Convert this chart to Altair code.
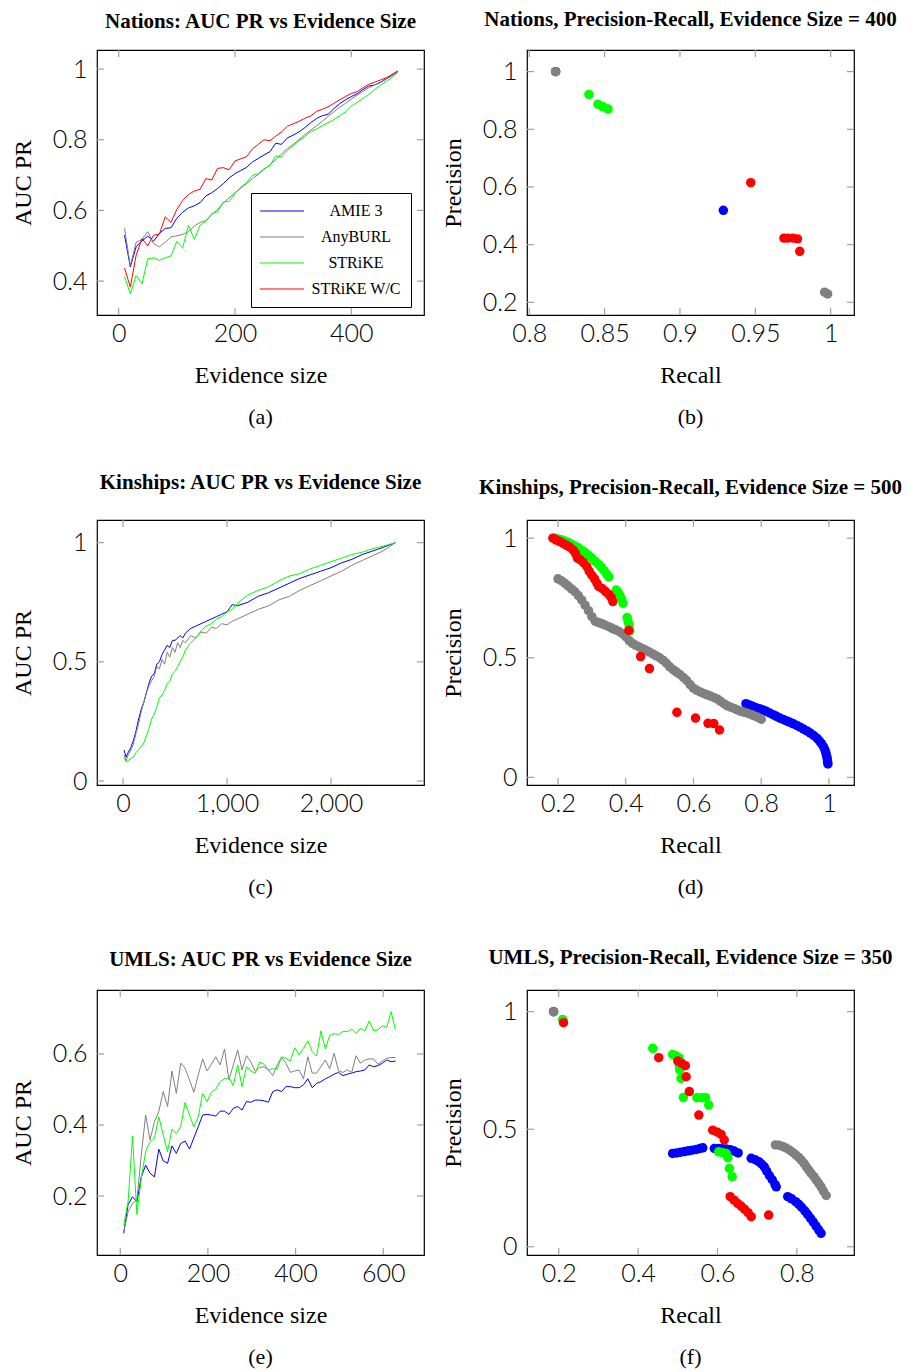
import altair as alt
import pandas as pd

SERIES = ["AMIE 3", "AnyBURL", "STRiKE", "STRiKE W/C"]
COLORS = ["#0000ff", "#808080", "#00ff00", "#ff0000"]
SERIF = "Liberation Serif"
SANS = "Lato"

# ---------------- Nations: AUC PR vs evidence size ----------------
NAT_X = [10, 20, 30, 40, 50, 60, 70, 80, 90, 100, 110, 120, 130, 140, 150, 160,
         170, 180, 190, 200, 210, 220, 230, 240, 250, 260, 270, 280, 290, 300,
         310, 320, 330, 340, 350, 360, 370, 380, 390, 400, 410, 420, 430, 440,
         450, 460, 470, 480]
NAT_AMIE = [0.53, 0.44, 0.497, 0.514, 0.527, 0.513, 0.535, 0.549, 0.551, 0.578,
            0.595, 0.607, 0.613, 0.622, 0.641, 0.65, 0.662, 0.676, 0.692, 0.704,
            0.713, 0.722, 0.737, 0.747, 0.757, 0.766, 0.79, 0.787, 0.805, 0.813,
            0.822, 0.834, 0.848, 0.86, 0.868, 0.872, 0.888, 0.902, 0.913, 0.922,
            0.93, 0.942, 0.952, 0.955, 0.962, 0.972, 0.982, 0.993]
NAT_ANY = [0.55, 0.444, 0.51, 0.517, 0.54, 0.506, 0.497, 0.51, 0.525, 0.528,
           0.532, 0.54, 0.556, 0.566, 0.571, 0.588, 0.603, 0.621, 0.636, 0.65,
           0.663, 0.676, 0.69, 0.702, 0.716, 0.729, 0.744, 0.76, 0.775, 0.787,
           0.8, 0.814, 0.827, 0.839, 0.852, 0.866, 0.879, 0.892, 0.903, 0.915,
           0.926, 0.937, 0.947, 0.955, 0.963, 0.973, 0.983, 0.993]
NAT_STR = [0.413, 0.364, 0.416, 0.392, 0.463, 0.466, 0.459, 0.466, 0.471, 0.513,
           0.494, 0.558, 0.518, 0.558, 0.569, 0.591, 0.596, 0.624, 0.626, 0.648,
           0.666, 0.679, 0.699, 0.704, 0.718, 0.727, 0.754, 0.752, 0.77, 0.783,
           0.797, 0.809, 0.823, 0.83, 0.84, 0.848, 0.857, 0.868, 0.879, 0.895,
           0.906, 0.917, 0.928, 0.942, 0.954, 0.965, 0.977, 0.99]
NAT_WC = [0.437, 0.383, 0.473, 0.52, 0.50, 0.53, 0.533, 0.582, 0.566, 0.603,
          0.628, 0.645, 0.655, 0.66, 0.69, 0.686, 0.719, 0.721, 0.715, 0.74,
          0.746, 0.752, 0.774, 0.787, 0.8, 0.797, 0.81, 0.822, 0.838, 0.845,
          0.852, 0.861, 0.867, 0.88, 0.886, 0.893, 0.903, 0.913, 0.922, 0.931,
          0.936, 0.947, 0.957, 0.963, 0.969, 0.975, 0.985, 0.995]

# ---------------- Nations: precision-recall, evidence 400 ----------------
NPR_AMIE_R = [0.8175, 0.9288]
NPR_AMIE_P = [1.0, 0.519]
NPR_ANY_R = [0.8175, 0.996, 0.998]
NPR_ANY_P = [1.0, 0.235, 0.229]
NPR_STR_R = [0.8396, 0.8456, 0.849, 0.8523]
NPR_STR_P = [0.921, 0.887, 0.878, 0.870]
NPR_WC_R = [0.947, 0.969, 0.9715, 0.975, 0.978, 0.9795]
NPR_WC_P = [0.615, 0.4226, 0.4226, 0.4226, 0.42, 0.377]

# ---------------- Kinships: AUC PR vs evidence size ----------------
KIN_X = [10, 30, 50, 75, 100, 125, 150, 175, 200, 225, 250, 275, 300, 325, 350,
         375, 400, 425, 450, 475, 500, 525, 550, 575, 600, 650, 700, 750, 800,
         850, 900, 950, 1000, 1050, 1100, 1200, 1300, 1400, 1500, 1600, 1700,
         1800, 1900, 2000, 2100, 2200, 2300, 2400, 2500, 2620]
KIN_AMIE = [0.13, 0.10, 0.12, 0.14, 0.17, 0.21, 0.26, 0.30, 0.33, 0.37,
            0.41, 0.44, 0.45, 0.49, 0.50, 0.53, 0.55, 0.57, 0.56, 0.59,
            0.59, 0.60, 0.61, 0.60, 0.62, 0.64, 0.65, 0.66, 0.67, 0.68,
            0.69, 0.70, 0.71, 0.74, 0.735, 0.75, 0.775, 0.79, 0.81, 0.83,
            0.85, 0.865, 0.88, 0.895, 0.915, 0.93, 0.95, 0.965, 0.98, 1.0]
KIN_ANY = [0.11, 0.085, 0.11, 0.13, 0.155, 0.20, 0.24, 0.29, 0.33, 0.37,
           0.40, 0.42, 0.44, 0.48, 0.47, 0.51, 0.49, 0.54, 0.52, 0.56,
           0.54, 0.58, 0.56, 0.59, 0.58, 0.61, 0.60, 0.625, 0.62, 0.645,
           0.64, 0.66, 0.655, 0.67, 0.68, 0.70, 0.72, 0.735, 0.76, 0.775,
           0.80, 0.82, 0.84, 0.86, 0.88, 0.905, 0.925, 0.945, 0.965, 1.0]
KIN_STR = [0.10, 0.08, 0.085, 0.095, 0.10, 0.12, 0.13, 0.145, 0.16, 0.19,
           0.22, 0.26, 0.28, 0.31, 0.35, 0.36, 0.38, 0.41, 0.42, 0.45,
           0.46, 0.48, 0.50, 0.52, 0.55, 0.58, 0.60, 0.63, 0.65, 0.66,
           0.68, 0.69, 0.71, 0.72, 0.745, 0.78, 0.80, 0.815, 0.84, 0.86,
           0.87, 0.89, 0.905, 0.92, 0.935, 0.95, 0.96, 0.975, 0.985, 1.0]

# ---------------- Kinships: precision-recall, evidence 500 ----------------
KPR_AMIE_R = [0.755, 0.765, 0.775, 0.785, 0.795, 0.805, 0.815, 0.825, 0.835, 0.845,
              0.855, 0.865, 0.875, 0.885, 0.895, 0.905, 0.915, 0.925, 0.935, 0.945,
              0.955, 0.965, 0.972, 0.978, 0.984, 0.988, 0.991, 0.993, 0.995, 0.996,
              0.997]
KPR_AMIE_P = [0.308, 0.302, 0.297, 0.291, 0.287, 0.282, 0.276, 0.269, 0.262, 0.255,
              0.248, 0.242, 0.236, 0.230, 0.224, 0.217, 0.210, 0.202, 0.194, 0.185,
              0.175, 0.163, 0.152, 0.141, 0.128, 0.115, 0.102, 0.090, 0.078, 0.066,
              0.056]
KPR_ANY_R = [0.20, 0.21, 0.22, 0.23, 0.24, 0.25, 0.26, 0.27, 0.28, 0.29,
             0.30, 0.31, 0.32, 0.33, 0.34, 0.35, 0.36, 0.37, 0.38, 0.39,
             0.40, 0.41, 0.42, 0.43, 0.44, 0.45, 0.46, 0.47, 0.48, 0.49,
             0.50, 0.51, 0.52, 0.53, 0.54, 0.55, 0.56, 0.57, 0.58, 0.59,
             0.60, 0.61, 0.62, 0.63, 0.64, 0.65, 0.66, 0.67, 0.68, 0.69,
             0.70, 0.71, 0.72, 0.73, 0.74, 0.75, 0.76, 0.77, 0.78, 0.79, 0.80]
KPR_ANY_P = [0.830, 0.822, 0.812, 0.800, 0.788, 0.776, 0.760, 0.742, 0.720, 0.697,
             0.672, 0.652, 0.647, 0.642, 0.636, 0.630, 0.623, 0.617, 0.610, 0.601,
             0.588, 0.572, 0.560, 0.552, 0.545, 0.538, 0.531, 0.524, 0.516, 0.508,
             0.500, 0.490, 0.477, 0.462, 0.450, 0.440, 0.430, 0.418, 0.405, 0.388,
             0.373, 0.364, 0.357, 0.351, 0.345, 0.340, 0.334, 0.328, 0.318, 0.308,
             0.299, 0.293, 0.288, 0.282, 0.276, 0.272, 0.268, 0.263, 0.257, 0.251, 0.243]
KPR_STR_R = [0.190, 0.200, 0.210, 0.220, 0.230, 0.240, 0.250, 0.260, 0.270, 0.280,
             0.290, 0.300, 0.310, 0.320, 0.328, 0.336, 0.343, 0.350,
             0.372, 0.378, 0.383, 0.388, 0.392, 0.404, 0.407, 0.410, 0.412]
KPR_STR_P = [1.000, 0.997, 0.993, 0.988, 0.982, 0.975, 0.967, 0.960, 0.950, 0.940,
             0.929, 0.917, 0.903, 0.890, 0.878, 0.864, 0.851, 0.838,
             0.783, 0.772, 0.760, 0.745, 0.728, 0.668, 0.651, 0.635, 0.612]
KPR_WC_R = [0.185, 0.195, 0.205, 0.215, 0.225, 0.235, 0.245, 0.252, 0.257, 0.265,
            0.275, 0.285, 0.292, 0.300, 0.308, 0.315, 0.320, 0.330, 0.340, 0.350,
            0.357, 0.362, 0.409, 0.444, 0.470, 0.551, 0.606, 0.643, 0.660, 0.677]
KPR_WC_P = [1.000, 0.992, 0.986, 0.978, 0.970, 0.962, 0.950, 0.935, 0.918, 0.910,
            0.898, 0.882, 0.862, 0.845, 0.830, 0.812, 0.798, 0.790, 0.778, 0.765,
            0.752, 0.735, 0.614, 0.505, 0.455, 0.272, 0.248, 0.226, 0.225, 0.198]

# ---------------- UMLS: AUC PR vs evidence size ----------------
UML_X = [8, 18, 28, 38, 48, 58, 68, 78, 88, 98, 108, 118, 128, 138, 148, 158,
         168, 178, 188, 198, 208, 218, 228, 238, 248, 258, 268, 278, 288, 298,
         308, 318, 328, 338, 348, 358, 368, 378, 388, 398, 408, 418, 428, 438,
         448, 458, 468, 478, 488, 498, 508, 518, 528, 538, 548, 558, 568, 578,
         588, 598, 608, 618, 628]
UML_AMIE = [0.095, 0.176, 0.198, 0.184, 0.254, 0.287, 0.264, 0.254, 0.332, 0.299,
            0.292, 0.341, 0.32, 0.348, 0.355, 0.332, 0.364, 0.395, 0.428, 0.43,
            0.428, 0.425, 0.439, 0.439, 0.43, 0.447, 0.452, 0.442, 0.466, 0.464,
            0.47, 0.47, 0.468, 0.464, 0.494, 0.499, 0.494, 0.508, 0.508, 0.505,
            0.505, 0.513, 0.53, 0.505, 0.517, 0.522, 0.53, 0.536, 0.543, 0.548,
            0.539, 0.543, 0.546, 0.55, 0.552, 0.555, 0.569, 0.564, 0.567, 0.574,
            0.583, 0.578, 0.58]
UML_ANY = [0.1, 0.156, 0.179, 0.189, 0.315, 0.428, 0.358, 0.409, 0.438, 0.494,
           0.452, 0.552, 0.489, 0.574, 0.56, 0.527, 0.492, 0.541, 0.586, 0.552,
           0.571, 0.592, 0.569, 0.614, 0.527, 0.569, 0.611, 0.555, 0.595, 0.577,
           0.552, 0.562, 0.564, 0.555, 0.539, 0.569, 0.59, 0.574, 0.548, 0.552,
           0.555, 0.53, 0.592, 0.546, 0.546, 0.564, 0.583, 0.558, 0.602, 0.552,
           0.548, 0.555, 0.548, 0.595, 0.574, 0.583, 0.586, 0.586, 0.571, 0.58,
           0.588, 0.59, 0.59]
UML_STR = [0.118, 0.184, 0.369, 0.148, 0.25, 0.325, 0.353, 0.362, 0.423, 0.372,
           0.325, 0.388, 0.376, 0.395, 0.464, 0.428, 0.395, 0.423, 0.489, 0.466,
           0.492, 0.501, 0.522, 0.53, 0.533, 0.511, 0.569, 0.508, 0.564, 0.552,
           0.546, 0.577, 0.571, 0.555, 0.558, 0.558, 0.592, 0.588, 0.58, 0.618,
           0.597, 0.616, 0.637, 0.607, 0.594, 0.665, 0.614, 0.652, 0.657, 0.655,
           0.663, 0.663, 0.67, 0.658, 0.672, 0.665, 0.693, 0.665, 0.668, 0.679,
           0.675, 0.719, 0.668]

# ---------------- UMLS: precision-recall, evidence 350 ----------------
UPR_AMIE_R = [0.187,
              0.487, 0.497, 0.507, 0.517, 0.527, 0.537, 0.547, 0.556, 0.563,
              0.592, 0.602, 0.612, 0.622, 0.632, 0.642, 0.652,
              0.685, 0.695, 0.704, 0.711, 0.718, 0.724, 0.731, 0.738, 0.745, 0.748,
              0.777, 0.787, 0.797, 0.805, 0.812, 0.820, 0.827, 0.834, 0.841, 0.848,
              0.855, 0.861]
UPR_AMIE_P = [1.0,
              0.397, 0.399, 0.402, 0.405, 0.408, 0.411, 0.414, 0.418, 0.421,
              0.418, 0.418, 0.417, 0.416, 0.413, 0.407, 0.399,
              0.376, 0.370, 0.362, 0.352, 0.340, 0.322, 0.302, 0.285, 0.265, 0.255,
              0.213, 0.204, 0.192, 0.180, 0.168, 0.153, 0.138, 0.122, 0.106, 0.089,
              0.072, 0.057]
UPR_ANY_R = [0.187, 0.746, 0.755, 0.765, 0.773, 0.782, 0.790, 0.798, 0.805, 0.811,
             0.818, 0.824, 0.830, 0.836, 0.843, 0.849, 0.855, 0.861, 0.867, 0.874]
UPR_ANY_P = [1.0, 0.433, 0.432, 0.426, 0.420, 0.411, 0.401, 0.390, 0.380, 0.369,
             0.355, 0.340, 0.326, 0.312, 0.298, 0.284, 0.270, 0.255, 0.237, 0.218]
UPR_STR_R = [0.210, 0.437, 0.487, 0.495, 0.503, 0.504, 0.505, 0.508, 0.514, 0.548,
             0.560, 0.570, 0.578, 0.603, 0.612, 0.622, 0.626, 0.630, 0.637]
UPR_STR_P = [0.967, 0.844, 0.818, 0.812, 0.804, 0.770, 0.752, 0.716, 0.635, 0.634,
             0.634, 0.634, 0.603, 0.404, 0.401, 0.397, 0.379, 0.333, 0.298]
UPR_WC_R = [0.212, 0.452, 0.500, 0.510, 0.519, 0.521, 0.529, 0.553, 0.588, 0.600,
            0.609, 0.617, 0.632, 0.642, 0.651, 0.660, 0.668, 0.677, 0.685, 0.729]
UPR_WC_P = [0.953, 0.804, 0.790, 0.780, 0.770, 0.723, 0.660, 0.560, 0.496, 0.487,
            0.478, 0.454, 0.213, 0.198, 0.184, 0.172, 0.160, 0.145, 0.128, 0.135]


def frame(pairs):
    rows = []
    for name, xs, ys in pairs:
        for a, b in zip(xs, ys):
            rows.append({"x": a, "y": b, "s": name})
    return pd.DataFrame(rows)


def panel(kind, df, title, toff, xdom, ydom, xticks, yticks, xfmt, yfmt,
          xtitle, ytitle, caption, w, h, legend=None, size=90):
    xenc = alt.X("x:Q", scale=alt.Scale(domain=xdom, nice=False, zero=False),
                 axis=alt.Axis(values=xticks, format=xfmt, title=xtitle,
                               titleY=60, titleBaseline="middle",
                               labelPadding=6, labelFlush=False, labelOverlap=False))
    yenc = alt.Y("y:Q", scale=alt.Scale(domain=ydom, nice=False, zero=False),
                 axis=alt.Axis(values=yticks, format=yfmt, title=ytitle,
                               titleX=-74, titleY=h / 2, titleAngle=270,
                               titleBaseline="middle", titleAlign="center",
                               labelPadding=10, labelFlush=False, labelOverlap=False))
    color = alt.Color("s:N", scale=alt.Scale(domain=SERIES, range=COLORS), legend=legend)
    base = alt.Chart(df)
    if kind == "line":
        data_layer = base.mark_line(strokeWidth=1).encode(x=xenc, y=yenc, color=color)
    else:
        data_layer = base.mark_circle(size=size, opacity=1).encode(x=xenc, y=yenc, color=color)
    tx = alt.Chart(pd.DataFrame({"x": xticks}))
    ty = alt.Chart(pd.DataFrame({"y": yticks}))
    tk = dict(color="#a0a0a0", strokeWidth=1.2)
    layers = [
        tx.mark_rule(**tk).encode(x=xenc, y=alt.value(0), y2=alt.value(7)),
        tx.mark_rule(**tk).encode(x=xenc, y=alt.value(h - 7), y2=alt.value(h)),
        ty.mark_rule(**tk).encode(y=yenc, x=alt.value(0), x2=alt.value(7)),
        ty.mark_rule(**tk).encode(y=yenc, x=alt.value(w - 7), x2=alt.value(w)),
        data_layer,
        alt.Chart(pd.DataFrame({"c": [caption]})).mark_text(
            font=SERIF, fontSize=22, baseline="middle", align="center", color="black"
        ).encode(text="c:N", x=alt.value(w / 2), y=alt.value(h + 102)),
    ]
    return alt.layer(*layers).properties(
        width=w, height=h,
        title=alt.TitleParams(title, font=SERIF, fontSize=21, fontWeight="bold",
                              anchor="middle", offset=toff, color="black"))


# legend line sample: a wide custom path (length 5*sqrt(size)) keeps rows compact
legend_a = alt.Legend(orient="none", legendX=154, legendY=143, title=None,
                      symbolType="M-5,0H5", symbolSize=77.4, symbolStrokeWidth=1,
                      symbolOffset=13,
                      labelFont=SERIF, labelFontSize=16, labelAlign="center",
                      labelOffset=66, labelColor="black", labelLimit=300,
                      strokeColor="black", fillColor="white", padding=10,
                      rowPadding=10)

H = 265
W = 327
pa = panel("line", frame([(SERIES[0], NAT_X, NAT_AMIE), (SERIES[1], NAT_X, NAT_ANY),
                          (SERIES[2], NAT_X, NAT_STR), (SERIES[3], NAT_X, NAT_WC)]),
           "Nations: AUC PR vs Evidence Size", 17, [-37.3, 525], [0.304, 1.054],
           [0, 200, 400], [0.4, 0.6, 0.8, 1.0], "d", "~g",
           "Evidence size", "AUC PR", "(a)", W, H, legend=legend_a)
pb = panel("point", frame([(SERIES[0], NPR_AMIE_R, NPR_AMIE_P), (SERIES[1], NPR_ANY_R, NPR_ANY_P),
                           (SERIES[2], NPR_STR_R, NPR_STR_P), (SERIES[3], NPR_WC_R, NPR_WC_P)]),
           "Nations, Precision-Recall, Evidence Size = 400", 19, [0.7985, 1.0155], [0.156, 1.075],
           [0.8, 0.85, 0.9, 0.95, 1.0], [0.2, 0.4, 0.6, 0.8, 1.0], "~g", "~g",
           "Recall", "Precision", "(b)", W, H)
pc = panel("line", frame([(SERIES[0], KIN_X, KIN_AMIE), (SERIES[1], KIN_X, KIN_ANY),
                          (SERIES[2], KIN_X, KIN_STR)]),
           "Kinships: AUC PR vs Evidence Size", 26, [-250, 2894], [-0.0167, 1.095],
           [0, 1000, 2000], [0, 0.5, 1.0], ",d", "~g",
           "Evidence size", "AUC PR", "(c)", W, H)
pd_ = panel("point", frame([(SERIES[0], KPR_AMIE_R, KPR_AMIE_P), (SERIES[1], KPR_ANY_R, KPR_ANY_P),
                            (SERIES[2], KPR_STR_R, KPR_STR_P), (SERIES[3], KPR_WC_R, KPR_WC_P)]),
            "Kinships, Precision-Recall, Evidence Size = 500", 21, [0.1085, 1.074], [-0.032, 1.076],
            [0.2, 0.4, 0.6, 0.8, 1.0], [0, 0.5, 1.0], "~g", "~g",
            "Recall", "Precision", "(d)", W, H)
pe = panel("line", frame([(SERIES[0], UML_X, UML_AMIE), (SERIES[1], UML_X, UML_ANY),
                          (SERIES[2], UML_X, UML_STR)]),
           "UMLS: AUC PR vs Evidence Size", 19, [-53, 693], [0.034, 0.78],
           [0, 200, 400, 600], [0.2, 0.4, 0.6], "d", "~g",
           "Evidence size", "AUC PR", "(e)", W, H)
pf = panel("point", frame([(SERIES[0], UPR_AMIE_R, UPR_AMIE_P), (SERIES[1], UPR_ANY_R, UPR_ANY_P),
                           (SERIES[2], UPR_STR_R, UPR_STR_P), (SERIES[3], UPR_WC_R, UPR_WC_P)]),
           "UMLS, Precision-Recall, Evidence Size = 350", 21, [0.12, 0.944], [-0.035, 1.092],
           [0.2, 0.4, 0.6, 0.8], [0, 0.5, 1.0], "~g", "~g",
           "Recall", "Precision", "(f)", W, H)

chart = alt.concat(pa, pb, pc, pd_, pe, pf, columns=2,
                   spacing={"row": 205, "column": 103}, bounds="flush")
chart = chart.resolve_scale(x="independent", y="independent", color="independent") \
    .resolve_legend(color="independent") \
    .resolve_axis(x="independent", y="independent")

chart = chart.properties(
    padding={"left": 2, "top": 0, "right": 2, "bottom": 2},
    background="white",
).configure_view(stroke="black", strokeWidth=1.2).configure_axis(
    labelFont=SANS, labelFontSize=25, labelFontWeight=300, labelColor="black",
    titleFont=SERIF, titleFontSize=24, titleFontWeight="normal", titleColor="black",
    domain=False, ticks=False, grid=False
)

chart.save("out.html", embed_options={"renderer": "svg", "actions": False})
